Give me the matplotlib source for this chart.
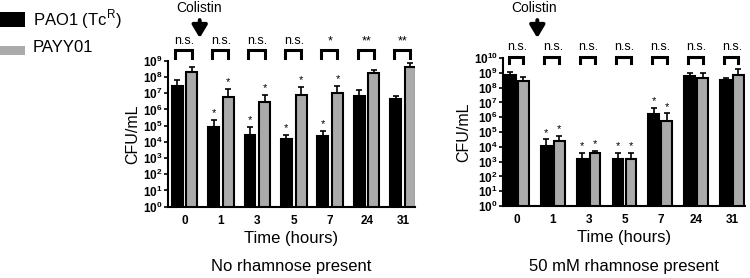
import numpy as np
import matplotlib
matplotlib.use("Agg")
import matplotlib.pyplot as plt
from matplotlib.patches import Rectangle
import matplotlib.transforms as mtrans

plt.rcParams['font.family'] = ['Liberation Sans', 'DejaVu Sans']
plt.rcParams['mathtext.fontset'] = 'custom'
plt.rcParams['mathtext.rm'] = 'Liberation Sans'
plt.rcParams['mathtext.bf'] = 'Liberation Sans:bold'

times = ['0', '1', '3', '5', '7', '24', '31']
series = ['PAO1 (Tc$^{\\rm R}$)', 'PAYY01']

# log10 CFU/mL
no_rha_pao1 = [7.45, 4.9, 4.4, 4.15, 4.35, 6.83, 6.67]
no_rha_pao1_err = [7.8, 5.38, 4.9, 4.45, 4.65, 7.2, 6.83]
no_rha_payy = [8.32, 6.75, 6.44, 6.87, 7.0, 8.28, 8.63]
no_rha_payy_err = [8.6, 7.25, 6.9, 7.4, 7.43, 8.43, 8.86]
no_rha_sig = ['n.s.', 'n.s.', 'n.s.', 'n.s.', '*', '**', '**']
no_rha_stars = [False, True, True, True, True, False, False]

rha_pao1 = [8.85, 4.07, 3.15, 3.15, 6.2, 8.78, 8.5]
rha_pao1_err = [9.03, 4.5, 3.6, 3.6, 6.64, 9.0, 8.63]
rha_payy = [8.45, 4.4, 3.56, 3.2, 5.77, 8.63, 8.85]
rha_payy_err = [8.7, 4.73, 3.7, 3.56, 6.26, 9.0, 9.25]
rha_sig = ['n.s.'] * 7
rha_stars = [False, True, True, True, True, False, False]

black = '#000000'
grey = '#aaaaaa'

fig = plt.figure(figsize=(7.5, 2.78), dpi=100)
ax1 = fig.add_axes([0.224, 0.2565, 0.329, 0.5245])
ax2 = fig.add_axes([0.671, 0.259, 0.3227, 0.532])


def panel(ax, pao1, pao1_err, payy, payy_err, sig, stars, top, xlim, off,
          br_top, br_bot, txt_y, arrow_x, text_x, title):
    x = np.arange(len(times))
    w = 0.3
    v1 = 10 ** np.array(pao1)
    v2 = 10 ** np.array(payy)
    e1 = 10 ** np.array(pao1_err) - v1
    e2 = 10 ** np.array(payy_err) - v2
    ax.set_yscale('log')
    ekw = dict(ecolor=black, elinewidth=1.2, capsize=2.5, capthick=1.2)
    ax.bar(x - off, v1, w, color=black, edgecolor=black, linewidth=1.5,
           yerr=[np.zeros_like(e1), e1], error_kw=ekw)
    ax.bar(x + off, v2, w, color=grey, edgecolor=black, linewidth=1.5,
           yerr=[np.zeros_like(e2), e2], error_kw=ekw)
    for i in range(len(times)):
        if stars[i]:
            ax.text(x[i] - off, 10 ** (pao1_err[i] + 0.12), '*', ha='center', va='bottom', fontsize=8)
            ax.text(x[i] + off, 10 ** (payy_err[i] + 0.12), '*', ha='center', va='bottom', fontsize=8)
    ax.set_ylim(1, 10 ** top)
    ax.set_xlim(*xlim)
    ax.set_yticks([10 ** k for k in range(top + 1)])
    ax.set_yticklabels(['$\\mathbf{10^{%d}}$' % k for k in range(top + 1)], fontsize=8.5)
    ax.minorticks_off()
    ax.set_xticks(x)
    ax.set_xticklabels(times, fontsize=8.5, fontweight='bold')
    ax.tick_params(axis='x', length=0, pad=6)
    ax.tick_params(axis='y', length=3, width=1.2, pad=1)
    for s in ['top', 'right']:
        ax.spines[s].set_visible(False)
    for s in ['left', 'bottom']:
        ax.spines[s].set_linewidth(1.5)
    ax.set_ylabel('CFU/mL', fontsize=11.5, labelpad=2)
    ax.set_xlabel('Time (hours)', fontsize=12, labelpad=3)

    tr = mtrans.blended_transform_factory(ax.transData, fig.transFigure)
    for i in range(len(times)):
        xl, xr = x[i] - off - 0.05, x[i] + off
        ax.plot([xl, xl, xr, xr], [br_bot, br_top, br_top, br_bot], color=black,
                lw=2.2, transform=tr, clip_on=False, solid_joinstyle='miter')
        ax.text(x[i], txt_y, sig[i], ha='center', va='bottom', fontsize=9, transform=tr)
    ax.annotate('', xy=(arrow_x, 1 - 38 / 278), xycoords=tr,
                xytext=(arrow_x, 1 - 20 / 278), textcoords=tr,
                arrowprops=dict(arrowstyle='-|>,head_width=0.3,head_length=0.5', mutation_scale=15,
                                shrinkA=0, shrinkB=0, color=black, lw=2.8))
    ax.text(text_x, 1 - 8 / 278, 'Colistin', ha='center', va='center', fontsize=10, transform=tr)
    ax.text(0.5, 0.04, title, ha='center', va='center', fontsize=12,
            transform=mtrans.blended_transform_factory(ax.transAxes, fig.transFigure))


panel(ax1, no_rha_pao1, no_rha_pao1_err, no_rha_payy, no_rha_payy_err, no_rha_sig, no_rha_stars,
      9, (-0.45, 6.32), 0.2, 0.820, 0.791, 0.831, 0.42, 0.40, 'No rhamnose present')
panel(ax2, rha_pao1, rha_pao1_err, rha_payy, rha_payy_err, rha_sig, rha_stars,
      10, (-0.38, 6.37), 0.18, 0.796, 0.772, 0.808, 0.57, 0.49, '50 mM rhamnose present')

# legend
fig.patches.append(Rectangle((0.0, 1 - 27 / 278), 25 / 750, 15 / 278, transform=fig.transFigure,
                             facecolor=black, edgecolor='none'))
fig.patches.append(Rectangle((0.0, 1 - 55 / 278), 25 / 750, 9 / 278, transform=fig.transFigure,
                             facecolor=grey, edgecolor='none'))
fig.text(33 / 750, 1 - 19 / 278, series[0], fontsize=12, va='center', ha='left')
fig.text(33 / 750, 1 - 47 / 278, series[1], fontsize=12, va='center', ha='left')

fig.savefig('out.png', dpi=100)
